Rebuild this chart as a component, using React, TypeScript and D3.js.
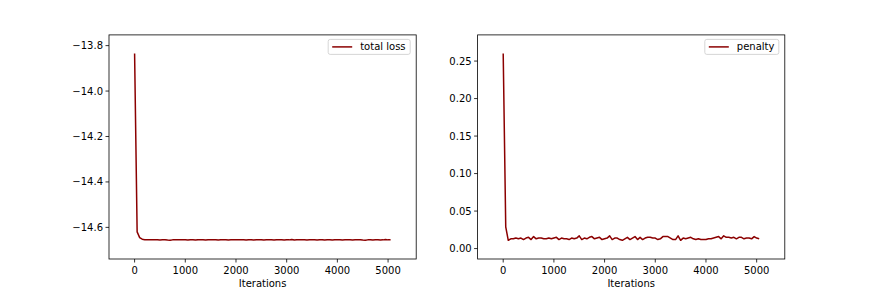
import React from 'react';
import { scaleLinear, line } from 'd3';

// iterations sampled every 50 steps, 0..5050
const iterations = Array.from({ length: 102 }, (_, i) => i * 50);

const totalLoss = [
  -13.835, -14.62, -14.645, -14.652, -14.654, -14.655, -14.654, -14.655, -14.654, -14.655,
  -14.656, -14.655, -14.654, -14.656, -14.657, -14.655, -14.654, -14.655, -14.655, -14.654,
  -14.655, -14.656, -14.654, -14.655, -14.656, -14.654, -14.655, -14.655, -14.656, -14.654,
  -14.655, -14.655, -14.654, -14.656, -14.655, -14.655, -14.654, -14.656, -14.655, -14.655,
  -14.655, -14.654, -14.654, -14.655, -14.656, -14.654, -14.655, -14.656, -14.654, -14.655,
  -14.654, -14.656, -14.655, -14.654, -14.655, -14.656, -14.654, -14.655, -14.655, -14.656,
  -14.654, -14.655, -14.653, -14.656, -14.655, -14.654, -14.655, -14.655, -14.656, -14.655,
  -14.654, -14.655, -14.656, -14.655, -14.654, -14.656, -14.655, -14.654, -14.656, -14.655,
  -14.655, -14.654, -14.656, -14.655, -14.654, -14.655, -14.656, -14.655, -14.655, -14.654,
  -14.656, -14.657, -14.655, -14.654, -14.656, -14.655, -14.654, -14.656, -14.655, -14.653,
  -14.655, -14.654,
];

const penalty = [
  0.26, 0.029, 0.011, 0.013, 0.013, 0.014, 0.013, 0.014, 0.012, 0.014,
  0.015, 0.012, 0.016, 0.013, 0.014, 0.014, 0.013, 0.013, 0.014, 0.013,
  0.014, 0.015, 0.012, 0.014, 0.013, 0.013, 0.012, 0.014, 0.013, 0.014,
  0.017, 0.012, 0.014, 0.013, 0.015, 0.016, 0.013, 0.014, 0.015, 0.012,
  0.013, 0.014, 0.017, 0.012, 0.014, 0.014, 0.012, 0.011, 0.013, 0.015,
  0.012, 0.014, 0.016, 0.012, 0.015, 0.012, 0.014, 0.015, 0.015, 0.014,
  0.014, 0.012, 0.013, 0.016, 0.016, 0.016, 0.014, 0.012, 0.012, 0.017,
  0.011, 0.014, 0.013, 0.014, 0.015, 0.013, 0.012, 0.013, 0.012, 0.012,
  0.012, 0.013, 0.013, 0.014, 0.015, 0.016, 0.013, 0.017, 0.015, 0.015,
  0.014, 0.015, 0.013, 0.015, 0.015, 0.013, 0.014, 0.014, 0.013, 0.016,
  0.014, 0.013,
];

const xTicks = [0, 1000, 2000, 3000, 4000, 5000];
const lossTicks = [-13.8, -14.0, -14.2, -14.4, -14.6];
const penaltyTicks = [0.0, 0.05, 0.1, 0.15, 0.2, 0.25];

const W = 872;
const H = 291;
const top = 34.9;
const bottom = 259;
const axW = 307.2;
const lineColor = '#8b0000';
const font = 'DejaVu Sans, sans-serif';

const fmt = (v: number, digits: number) => {
  const s = Math.abs(v).toFixed(digits);
  return v < 0 ? '\u2212' + s : s;
};

function withMargin(values: number[]): [number, number] {
  const lo = Math.min(...values);
  const hi = Math.max(...values);
  const m = (hi - lo) * 0.1;
  return [lo - m, hi + m];
}

type PanelProps = {
  left: number;
  values: number[];
  ticks: number[];
  digits: number;
  label: string;
  legendWidth: number;
};

const Panel = ({ left, values, ticks, digits, label, legendWidth }: PanelProps) => {
  const x = scaleLinear().domain(withMargin(iterations)).range([left, left + axW]);
  const y = scaleLinear().domain(withMargin(values)).range([bottom, top]);
  const path = line<number>()
    .x((_, i) => x(iterations[i]))
    .y((d) => y(d))(values);

  const right = left + axW;
  const lgX = right - 6 - legendWidth;
  const lgY = top + 4.5;

  return (
    <g>
      <path d={path || ''} fill="none" stroke={lineColor} strokeWidth={1.5} strokeLinejoin="round" />
      <rect x={left} y={top} width={axW} height={bottom - top} fill="none" stroke="#000" strokeWidth={0.8} />
      {xTicks.map((t) => (
        <g key={t} transform={`translate(${x(t)},${bottom})`}>
          <line y2={3.5} stroke="#000" strokeWidth={0.8} />
          <text y={15} textAnchor="middle" fontSize={10} fontFamily={font} fill="#000">
            {t}
          </text>
        </g>
      ))}
      {ticks.map((t) => (
        <g key={t} transform={`translate(${left},${y(t)})`}>
          <line x2={-3.5} stroke="#000" strokeWidth={0.8} />
          <text x={-6} dy="0.35em" textAnchor="end" fontSize={10} fontFamily={font} fill="#000">
            {fmt(t, digits)}
          </text>
        </g>
      ))}
      <text x={left + axW / 2} y={bottom + 28} textAnchor="middle" fontSize={10} fontFamily={font} fill="#000">
        Iterations
      </text>
      <rect x={lgX} y={lgY} width={legendWidth} height={15} rx={2} fill="#fff" fillOpacity={0.8} stroke="#ccc" strokeWidth={0.8} />
      <line x1={lgX + 4} x2={lgX + 24} y1={lgY + 7.5} y2={lgY + 7.5} stroke={lineColor} strokeWidth={1.5} />
      <text x={lgX + 32} y={lgY + 7.5} dy="0.35em" fontSize={10} fontFamily={font} fill="#000">
        {label}
      </text>
    </g>
  );
};

export default function App() {
  return (
    <svg width={W} height={H} style={{ display: 'block', position: 'absolute', left: 0, top: 0 }}>
      <rect width={W} height={H} fill="#fff" />
      <Panel left={109} values={totalLoss} ticks={lossTicks} digits={1} label="total loss" legendWidth={82} />
      <Panel left={477.6} values={penalty} ticks={penaltyTicks} digits={2} label="penalty" legendWidth={74} />
    </svg>
  );
}
